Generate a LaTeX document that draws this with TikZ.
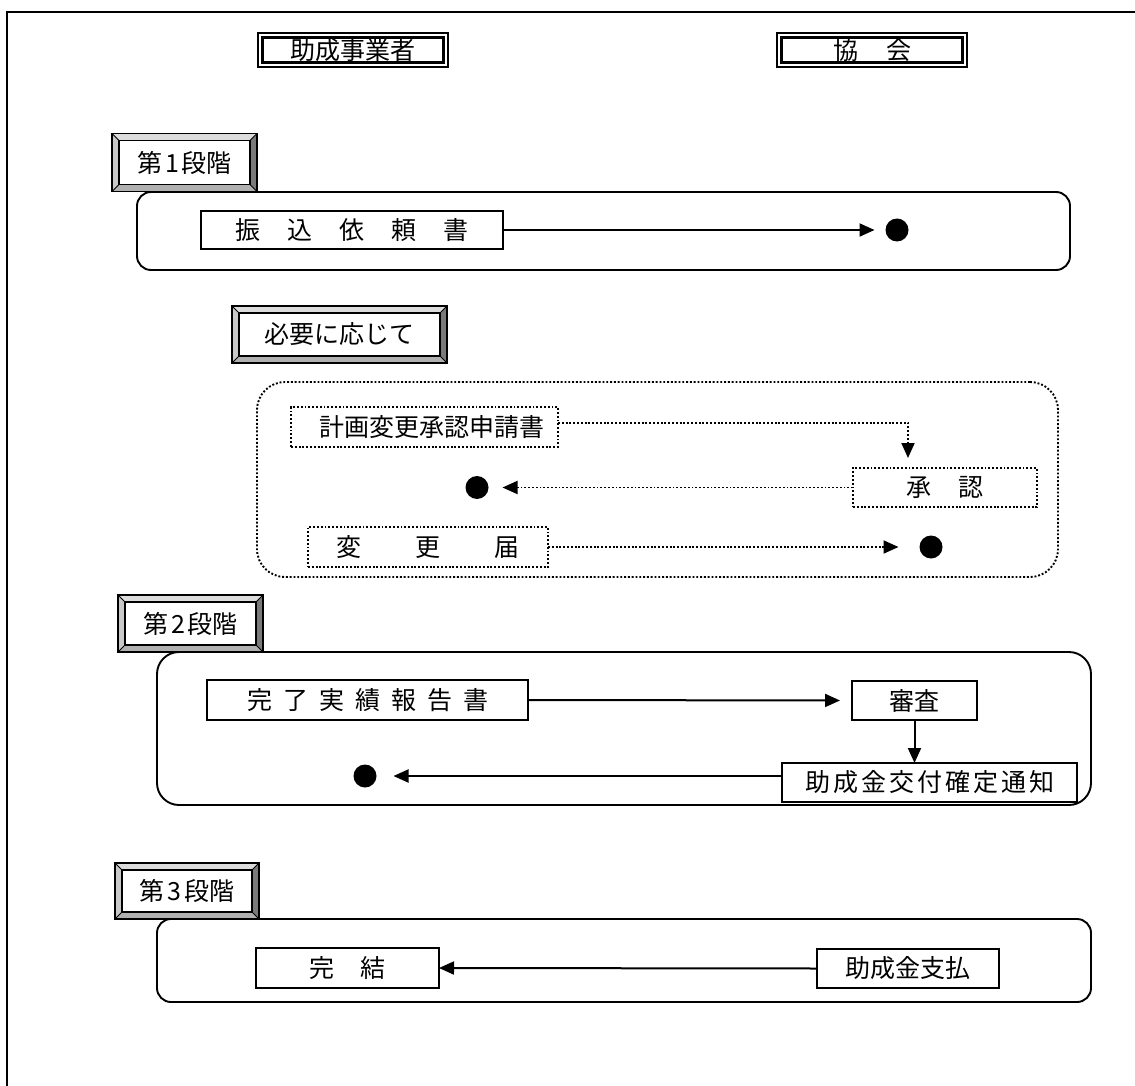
\documentclass[tikz,border=0pt]{standalone}
\usepackage{fontspec}
\newfontfamily\jp{Noto Sans CJK JP}
\usetikzlibrary{arrows.meta,calc}
\definecolor{bvT}{HTML}{DCDCDC}
\definecolor{bvL}{HTML}{C8C8C8}
\definecolor{bvR}{HTML}{7A7A7A}
\definecolor{bvB}{HTML}{B0B0B0}
\newcommand\bevelframe[1]{%
 \fill[bvT] ([shift={(-7pt,7pt)}]#1.north west) -- ([shift={(7pt,7pt)}]#1.north east) -- (#1.north east) -- (#1.north west) -- cycle;
 \fill[bvL] ([shift={(-7pt,7pt)}]#1.north west) -- (#1.north west) -- (#1.south west) -- ([shift={(-7pt,-7pt)}]#1.south west) -- cycle;
 \fill[bvR] ([shift={(7pt,7pt)}]#1.north east) -- ([shift={(7pt,-7pt)}]#1.south east) -- (#1.south east) -- (#1.north east) -- cycle;
 \fill[bvB] ([shift={(-7pt,-7pt)}]#1.south west) -- ([shift={(7pt,-7pt)}]#1.south east) -- (#1.south east) -- (#1.south west) -- cycle;
 \draw[line width=1pt] ([shift={(-7pt,7pt)}]#1.north west) -- (#1.north west)
   ([shift={(7pt,7pt)}]#1.north east) -- (#1.north east)
   ([shift={(-7pt,-7pt)}]#1.south west) -- (#1.south west)
   ([shift={(7pt,-7pt)}]#1.south east) -- (#1.south east);
 \draw[line width=1.6pt] ([shift={(-7pt,7pt)}]#1.north west) rectangle ([shift={(7pt,-7pt)}]#1.south east);
 \draw[line width=1.4pt] (#1.north west) rectangle (#1.south east);
}
\newcommand\innerdouble[1]{%
 \draw[line width=2.6pt] ([shift={(4.5pt,-4.5pt)}]#1.north west) rectangle ([shift={(-4.5pt,4.5pt)}]#1.south east);
}
\begin{document}
\begin{tikzpicture}[x=1pt,y=-1pt,
 every node/.style={font=\jp\fontsize{25}{30}\selectfont, inner sep=0pt, outer sep=0pt},
 tbox/.style={draw, line width=1.7pt, rectangle},
 dbox/.style={draw, line width=1.9pt, dash pattern=on 1.9pt off 1.9pt},
 hdr/.style={draw, line width=1.3pt, minimum width=190pt, minimum height=34pt},
 bev/.style={minimum width=131pt, minimum height=44pt},
 conn/.style={line width=2pt, -{Triangle[length=15pt,width=13pt]}},
 dconn/.style={line width=1.9pt, dash pattern=on 1.9pt off 1.9pt, -{Triangle[length=15pt,width=13pt]}},
 dotn/.style={circle, fill, minimum size=23pt},
 phase/.style={draw, line width=1.9pt},
]
\useasboundingbox (0,0) rectangle (1135,1086);
% outer frame
\draw[line width=2pt] (7,1095) -- (7,12) -- (1145,12);

% headers
\node[hdr] (jo) at (353,50) {助成事業者};
\innerdouble{jo}
\node[hdr] (kyo) at (872,50) {協\hspace{28pt}会};
\innerdouble{kyo}

% phase 1
\node[phase, rounded corners=14pt, minimum width=933pt, minimum height=78pt] (p1) at (603.5,231) {};
\node[bev] (s1) at (184.5,162.5) {第\hspace{3pt}1\hspace{3pt}段階};
\bevelframe{s1}
\node[tbox, minimum width=302pt, minimum height=38pt] (furi) at (352,230)
 {振\hspace{27pt}込\hspace{27pt}依\hspace{27pt}頼\hspace{27pt}書};
\node[dotn] (d1) at (897,230) {};
\draw[conn, shorten >=11pt] (furi.east) -- (d1.west);

% optional
\node[bev, minimum width=201pt, minimum height=43pt] (opt) at (339.5,334.5) {必要に応じて};
\bevelframe{opt}
\node[draw, line width=1.9pt, dash pattern=on 1.9pt off 1.9pt, rounded corners=28pt,
 minimum width=801pt, minimum height=195pt] (po) at (657.5,479.5) {};
\node[dbox, minimum width=267pt, minimum height=40pt] (kei) at (424.5,427) {\hspace{14pt}計画変更承認申請書};
\node[dbox, minimum width=184pt, minimum height=39pt] (shou) at (945,487.5) {承\hspace{27pt}認};
\node[dbox, minimum width=240pt, minimum height=40pt] (hen) at (428,547) {変\hspace{54pt}更\hspace{54pt}届};
\node[dotn] (d2) at (477,487.5) {};
\node[dotn] (d3) at (931,547) {};
\coordinate (kc) at (908,468);
\draw[dconn, shorten >=10pt] ([yshift=4pt]kei.east) -| (kc);
\draw[dconn, shorten >=14pt] (shou.west) -- (d2.east);
\draw[dconn, shorten >=21pt] (hen.east) -- (d3.west);

% phase 2
\node[phase, rounded corners=22pt, minimum width=934pt, minimum height=153pt] (p2) at (624,728.5) {};
\node[bev, minimum height=43pt] (s2) at (190.5,623.5) {第\hspace{3pt}2\hspace{3pt}段階};
\bevelframe{s2}
\node[tbox, minimum width=321pt, minimum height=40pt] (kan) at (367.5,700)
 {完\hspace{11pt}了\hspace{11pt}実\hspace{11pt}績\hspace{11pt}報\hspace{11pt}告\hspace{11pt}書\hspace{36pt}};
\node[tbox, minimum width=125pt, minimum height=39pt] (shin) at (914.5,700.5) {審査};
\node[tbox, minimum width=295pt, minimum height=39pt] (tsu) at (929.5,782.5)
 {助\hspace{3pt}成\hspace{3pt}金\hspace{3pt}交\hspace{3pt}付\hspace{3pt}確\hspace{3pt}定\hspace{3pt}通\hspace{3pt}知\hspace{26pt}};
\node[dotn] (d4) at (365,776) {};
\draw[conn, shorten >=12pt] (kan.east) -- (shin.west);
\draw[conn] (shin.south) -- (shin.south |- tsu.north);
\draw[conn, shorten >=17pt] (tsu.west |- d4) -- (d4.east);

% phase 3
\node[phase, rounded corners=14pt, minimum width=934pt, minimum height=83pt] (p3) at (624,960.5) {};
\node[bev, minimum width=130pt, minimum height=42pt] (s3) at (187,891) {第\hspace{3pt}3\hspace{3pt}段階};
\bevelframe{s3}
\node[tbox, minimum width=183pt, minimum height=40pt] (ketsu) at (347.5,968) {完\hspace{26pt}結};
\node[tbox, minimum width=182pt, minimum height=39pt] (shi) at (908,968.5) {助成金支払};
\draw[conn] (shi.west) -- (ketsu.east);
\end{tikzpicture}
\end{document}
